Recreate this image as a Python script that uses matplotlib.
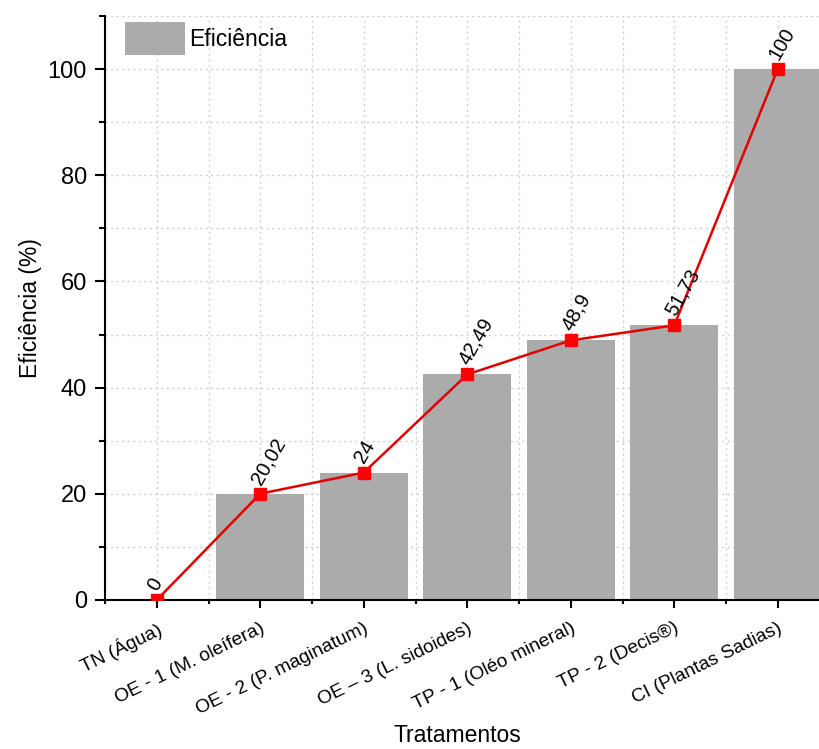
import matplotlib
matplotlib.use('Agg')
import matplotlib.pyplot as plt
import matplotlib.ticker as ticker
import matplotlib.transforms as mtransforms
import numpy as np

# data
tratamentos = ['TN (Água)', 'OE - 1 (M. oleífera)', 'OE - 2 (P. maginatum)',
               'OE – 3 (L. sidoides)', 'TP - 1 (Oléo mineral)', 'TP - 2 (Decis®)',
               'CI (Plantas Sadias)']
eficiencia = [0, 20.02, 24, 42.49, 48.9, 51.73, 100]
rotulos = ['0', '20,02', '24', '42,49', '48,9', '51,73', '100']

plt.rcParams['font.family'] = ['Liberation Sans', 'DejaVu Sans']

fig = plt.figure(figsize=(8.19, 7.49), dpi=100)
# axes run past the right edge of the picture, as in the original
ax = fig.add_axes([105/819, 1 - 600/749, 724.5/819, 584/749])

x = np.arange(len(tratamentos))
ax.bar(x, eficiencia, width=0.85, color='#ababab', label='Eficiência', zorder=2)
ax.plot(x, eficiencia, color='#e00000', lw=1.8, marker='s', ms=8,
        mfc='#ff0000', mec='#ff0000', zorder=3)

for xi, yi, txt in zip(x, eficiencia, rotulos):
    ax.annotate(txt, (xi, yi), xytext=(-3, 8), textcoords='offset points',
                rotation=60, rotation_mode='anchor', ha='left', va='center',
                fontsize=14.5, color='black', zorder=4)

ax.set_xlim(-0.5, 6.5)
ax.set_ylim(0, 110)
ax.set_xticks(x)
ax.set_xticklabels(tratamentos, rotation=26, ha='right', rotation_mode='anchor',
                   fontsize=13.8)
# nudge the slanted labels a little to the right, like the original
shift = mtransforms.ScaledTranslation(5/72, 0, fig.dpi_scale_trans)
for lab in ax.get_xticklabels():
    lab.set_transform(lab.get_transform() + shift)
ax.xaxis.set_minor_locator(ticker.FixedLocator(np.arange(-0.5, 7, 1.0)))
ax.yaxis.set_major_locator(ticker.MultipleLocator(20))
ax.yaxis.set_minor_locator(ticker.MultipleLocator(10))
ax.tick_params(axis='y', which='major', labelsize=17, length=7, width=1.5, pad=6)
ax.tick_params(axis='y', which='minor', length=4, width=1.5)
ax.tick_params(axis='x', which='major', length=6, width=1.5, pad=8)
ax.tick_params(axis='x', which='minor', length=3, width=1.5)

ax.grid(True, which='both', linestyle=(0, (1.5, 2.5)), color='#cfcfcf', lw=1.0, zorder=0)
ax.set_axisbelow(True)

for s in ['top', 'right']:
    ax.spines[s].set_visible(False)
for s in ['left', 'bottom']:
    ax.spines[s].set_linewidth(1.5)

ax.set_ylabel('Eficiência (%)', fontsize=16.5)
ax.yaxis.set_label_coords(-0.087, 0.5)
ax.set_xlabel('Tratamentos', fontsize=16.5)
ax.xaxis.set_label_coords(0.486, -0.212)

ax.legend(loc='upper left', frameon=False, fontsize=16.5, handlelength=2.6,
          handleheight=1.8, handletextpad=0.2, borderaxespad=0.0,
          bbox_to_anchor=(0.015, 1.005))

fig.savefig('out.png', dpi=100)
